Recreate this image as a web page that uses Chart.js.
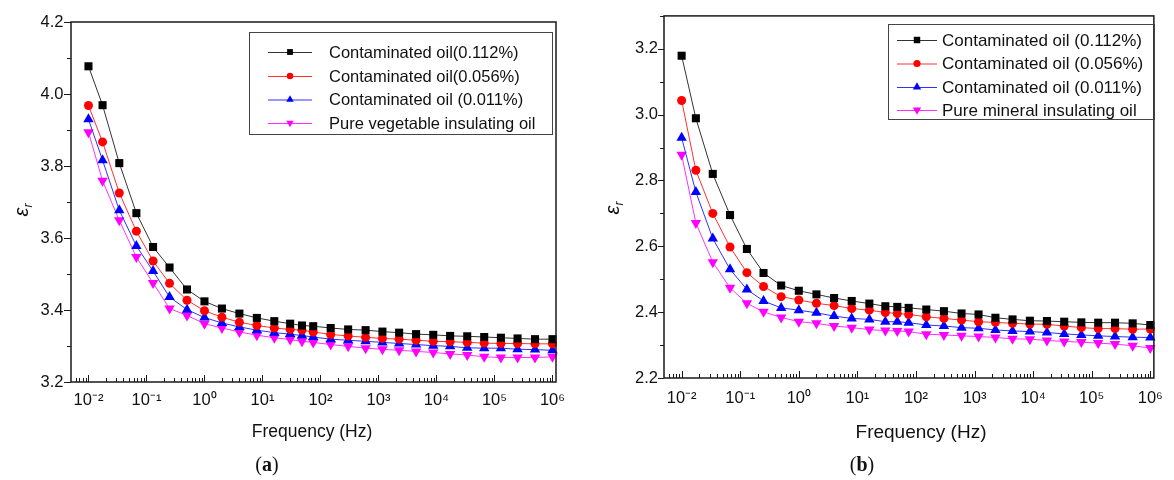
<!DOCTYPE html>
<html><head><meta charset="utf-8">
<script src="https://cdn.jsdelivr.net/npm/chart.js@4.4.0/dist/chart.umd.min.js"></script>
<style>
html,body{margin:0;padding:0;background:#fff;}
#wrap{position:relative;width:1174px;height:480px;overflow:hidden;}
#chartA{position:absolute;left:0;top:0;}
#chartB{position:absolute;left:580px;top:0;}
</style></head><body>
<div id="wrap">
<canvas id="chartA" width="580" height="480"></canvas>
<canvas id="chartB" width="594" height="480"></canvas>
</div>
<script>
// ---------- data ----------
const frequencies = [0.01, 0.0175, 0.034, 0.067, 0.13, 0.25, 0.5, 1, 2, 4, 8, 16, 30, 48, 75, 150, 300, 600,
  1170, 2270, 4450, 8800, 17200, 33900, 66500, 129000, 250000, 500000, 1000000];

const xTickValues = [1e-2, 1e-1, 1, 10, 100, 1e3, 1e4, 1e5, 1e6];
const xTickLabels = ['10\u207B\u00B2', '10\u207B\u00B9', '10\u2070', '10\u00B9', '10\u00B2', '10\u00B3', '10\u2074', '10\u2075', '10\u2076'];
const yTicksA = [3.2, 3.4, 3.6, 3.8, 4.0, 4.2];
const yTicksB = [2.2, 2.4, 2.6, 2.8, 3.0, 3.2];

const namesA = ['Contaminated oil(0.112%)', 'Contaminated oil(0.056%)', 'Contaminated oil (0.011%)', 'Pure vegetable insulating oil'];
const namesB = ['Contaminated oil (0.112%)', 'Contaminated oil (0.056%)', 'Contaminated oil (0.011%)', 'Pure mineral insulating oil'];

// panel (a): vegetable oil
const a112 = [4.077, 3.969, 3.808, 3.669, 3.575, 3.518, 3.457, 3.424, 3.404, 3.39, 3.378, 3.369, 3.362, 3.357, 3.355,
  3.35, 3.346, 3.344, 3.34, 3.337, 3.333, 3.331, 3.328, 3.327, 3.325, 3.323, 3.321, 3.319, 3.319];
const a056 = [3.968, 3.867, 3.725, 3.619, 3.536, 3.474, 3.427, 3.398, 3.38, 3.366, 3.357, 3.35, 3.346, 3.344, 3.339,
  3.332, 3.328, 3.324, 3.321, 3.319, 3.316, 3.313, 3.312, 3.31, 3.308, 3.307, 3.307, 3.306, 3.306];
const a011 = [3.93, 3.816, 3.677, 3.578, 3.508, 3.436, 3.401, 3.379, 3.364, 3.353, 3.344, 3.337, 3.333, 3.329, 3.325,
  3.319, 3.316, 3.313, 3.31, 3.307, 3.304, 3.301, 3.299, 3.295, 3.294, 3.294, 3.291, 3.29, 3.288];
const aPure = [3.894, 3.759, 3.649, 3.547, 3.475, 3.404, 3.385, 3.362, 3.35, 3.339, 3.33, 3.323, 3.318, 3.313, 3.31,
  3.304, 3.299, 3.294, 3.291, 3.288, 3.285, 3.282, 3.278, 3.275, 3.27, 3.268, 3.268, 3.268, 3.27];

// panel (b): mineral oil
const b112 = [3.179, 2.989, 2.82, 2.695, 2.592, 2.519, 2.481, 2.465, 2.454, 2.443, 2.434, 2.426, 2.418, 2.416, 2.413,
  2.408, 2.403, 2.396, 2.393, 2.383, 2.378, 2.374, 2.373, 2.371, 2.369, 2.368, 2.368, 2.366, 2.361];
const b056 = [3.043, 2.831, 2.70, 2.598, 2.52, 2.478, 2.447, 2.437, 2.427, 2.42, 2.411, 2.406, 2.399, 2.396, 2.393,
  2.386, 2.381, 2.376, 2.371, 2.369, 2.366, 2.364, 2.363, 2.358, 2.353, 2.35, 2.35, 2.348, 2.349];
const b011 = [2.93, 2.765, 2.624, 2.53, 2.469, 2.434, 2.413, 2.406, 2.398, 2.388, 2.381, 2.378, 2.371, 2.371, 2.368,
  2.361, 2.358, 2.353, 2.351, 2.346, 2.343, 2.341, 2.338, 2.334, 2.331, 2.328, 2.326, 2.324, 2.323];
const bPure = [2.878, 2.671, 2.552, 2.474, 2.427, 2.401, 2.384, 2.371, 2.366, 2.358, 2.353, 2.347, 2.344, 2.343, 2.341,
  2.333, 2.331, 2.328, 2.326, 2.323, 2.319, 2.318, 2.314, 2.311, 2.309, 2.306, 2.303, 2.298, 2.291];

// ---------- styles ----------
const seriesStyles = [
  {color: '#000000', line: '#333333', pointStyle: 'rect', radius: 5.7, rotation: 0},
  {color: '#ff0000', line: '#ff3030', pointStyle: 'circle', radius: 4.5, rotation: 0},
  {color: '#0000ff', line: '#3030ff', pointStyle: 'triangle', radius: 6, rotation: 0},
  {color: '#ff00ff', line: '#ff30ff', pointStyle: 'triangle', radius: 6, rotation: 180}
];
const FONT = '"Liberation Sans", Arial, sans-serif';

function makeDatasets(names, arrays) {
  return arrays.map((arr, i) => {
    const s = seriesStyles[i];
    return {
      label: names[i],
      data: arr.map((v, k) => ({x: frequencies[k], y: v})),
      borderColor: s.line,
      backgroundColor: s.color,
      borderWidth: 1,
      pointStyle: s.pointStyle,
      pointRadius: s.radius,
      pointRotation: s.rotation,
      pointBackgroundColor: s.color,
      pointBorderColor: s.color,
      pointBorderWidth: 0,
      tension: 0,
      clip: false
    };
  });
}

function decorPlugin(cfg) {
  return {
    id: 'decor',
    afterDraw(chart) {
      const {ctx, chartArea: ca, scales: {x, y}} = chart;
      ctx.save();
      // frame
      ctx.strokeStyle = '#1a1a1a';
      ctx.lineWidth = 1.5;
      ctx.strokeRect(ca.left, ca.top, ca.right - ca.left, ca.bottom - ca.top);
      // x ticks (inward)
      ctx.lineWidth = 1;
      ctx.beginPath();
      xTickValues.forEach(v => {
        const px = Math.round(x.getPixelForValue(v)) + 0.5;
        ctx.moveTo(px, ca.bottom); ctx.lineTo(px, ca.bottom - cfg.xMajor);
      });
      for (let d = -3; d <= 6; d++) {
        for (let k = 2; k <= 9; k++) {
          const v = k * Math.pow(10, d);
          if (v <= x.min || v >= x.max) continue;
          const px = Math.round(x.getPixelForValue(v)) + 0.5;
          ctx.moveTo(px, ca.bottom); ctx.lineTo(px, ca.bottom - cfg.xMinor);
        }
      }
      // y ticks (outward)
      const yt = cfg.yTicks;
      yt.forEach((v) => {
        const py = Math.round(y.getPixelForValue(v)) + 0.5;
        ctx.moveTo(ca.left, py); ctx.lineTo(ca.left - cfg.yMajor, py);
        const mv = v + 0.1;
        if (mv <= y.max + 1e-9) {
          const pm = Math.round(y.getPixelForValue(mv)) + 0.5;
          ctx.moveTo(ca.left, pm); ctx.lineTo(ca.left - cfg.yMinor, pm);
        }
      });
      ctx.strokeStyle = '#1a1a1a';
      ctx.stroke();

      // legend
      const L = cfg.legend;
      ctx.lineWidth = 1;
      ctx.strokeStyle = '#444';
      ctx.strokeRect(L.box[0] + 0.5, L.box[1] + 0.5, L.box[2], L.box[3]);
      ctx.font = L.font;
      ctx.textBaseline = 'middle';
      ctx.textAlign = 'left';
      chart.data.datasets.forEach((ds, i) => {
        const s = seriesStyles[i];
        const ry = L.rowY[i];
        ctx.strokeStyle = s.line;
        ctx.lineWidth = 1;
        ctx.beginPath();
        ctx.moveTo(L.x1, ry + 0.5); ctx.lineTo(L.x2, ry + 0.5);
        ctx.stroke();
        ctx.fillStyle = s.color;
        ctx.strokeStyle = s.color;
        Chart.helpers.drawPoint(ctx, {pointStyle: s.pointStyle, rotation: s.rotation, radius: s.radius * L.markerScale, borderWidth: 0}, L.mx, ry);
        ctx.fillStyle = '#111';
        ctx.fillText(ds.label, L.tx, ry + 1);
      });

      // y-axis title: epsilon_r rotated
      ctx.save();
      ctx.translate(cfg.yTitle.x, cfg.yTitle.y);
      ctx.rotate(-Math.PI / 2);
      ctx.fillStyle = '#111';
      ctx.textBaseline = 'alphabetic';
      ctx.textAlign = 'left';
      ctx.font = 'italic ' + cfg.yTitle.size + 'px ' + FONT;
      const ew = ctx.measureText('\u03B5').width;
      ctx.fillText('\u03B5', -ew / 2 - 3, 6);
      ctx.font = 'italic ' + Math.round(cfg.yTitle.size * 0.6) + 'px ' + FONT;
      ctx.fillText('r', ew / 2 - 3, 10);
      ctx.restore();

      // x-axis title
      ctx.fillStyle = '#111';
      ctx.textAlign = 'center';
      ctx.textBaseline = 'middle';
      ctx.font = cfg.xTitle.size + 'px ' + FONT;
      ctx.fillText('Frequency (Hz)', cfg.xTitle.x, cfg.xTitle.y);

      // caption (a)/(b)
      const serif = '"Liberation Serif", "DejaVu Serif", serif';
      ctx.font = '20px ' + serif;
      const wp1 = ctx.measureText('(').width, wp2 = ctx.measureText(')').width;
      ctx.font = 'bold 20px ' + serif;
      const wl = ctx.measureText(cfg.caption.text).width;
      const cx = cfg.caption.x - (wp1 + wl + wp2) / 2;
      ctx.textAlign = 'left';
      ctx.font = '20px ' + serif;
      ctx.fillText('(', cx, cfg.caption.y);
      ctx.font = 'bold 20px ' + serif;
      ctx.fillText(cfg.caption.text, cx + wp1, cfg.caption.y);
      ctx.font = '20px ' + serif;
      ctx.fillText(')', cx + wp1 + wl, cfg.caption.y);
      ctx.restore();
    }
  };
}

function buildChart(canvasId, datasets, cfg) {
  return new Chart(document.getElementById(canvasId), {
    type: 'line',
    data: {datasets},
    options: {
      responsive: false,
      devicePixelRatio: 1,
      animation: false,
      layout: {padding: {top: cfg.padTop, right: cfg.padRight, left: 0, bottom: 0}},
      plugins: {legend: {display: false}, tooltip: {enabled: false}},
      scales: {
        x: {
          type: 'logarithmic',
          min: 0.005, max: 1.15e6,
          grid: {display: false, drawTicks: false},
          border: {display: false},
          afterBuildTicks: s => { s.ticks = xTickValues.map(v => ({value: v})); },
          afterFit: s => { s.height = cfg.bottomH; },
          ticks: {
            autoSkip: false, maxRotation: 0, minRotation: 0,
            padding: cfg.xPad,
            color: '#111',
            font: {family: FONT, size: cfg.tickSize},
            callback: (v, i) => xTickLabels[i]
          }
        },
        y: {
          type: 'linear',
          min: cfg.yMin, max: cfg.yMax,
          grid: {display: false, drawTicks: false},
          border: {display: false},
          afterBuildTicks: s => { s.ticks = cfg.yTicks.map(v => ({value: v})); },
          afterFit: s => { s.width = cfg.leftW; },
          ticks: {
            padding: cfg.yPad,
            color: '#111',
            font: {family: FONT, size: cfg.tickSize},
            callback: v => Number(v).toFixed(1)
          }
        }
      }
    },
    plugins: [decorPlugin(cfg)]
  });
}

buildChart('chartA', makeDatasets(namesA, [a112, a056, a011, aPure]), {
  padTop: 22, padRight: 24, leftW: 71, bottomH: 98,
  yMin: 3.2, yMax: 4.2, yTicks: yTicksA,
  xPad: 8.5, yPad: 7.5, tickSize: 16.5,
  xMajor: 7, xMinor: 4, yMajor: 7, yMinor: 4,
  legend: {box: [249, 32, 303, 102], rowY: [52, 76, 99.5, 123], x1: 268, x2: 312, mx: 290, tx: 329, markerScale: 0.72, font: '16.5px ' + FONT},
  yTitle: {x: 22, y: 209, size: 20},
  xTitle: {x: 312, y: 432, size: 17.5},
  caption: {text: 'a', x: 267, y: 466}
});

buildChart('chartB', makeDatasets(namesB, [b112, b056, b011, bPure]), {
  padTop: 14, padRight: 17, leftW: 84, bottomH: 102,
  yMin: 2.2, yMax: 3.3, yTicks: yTicksB,
  xPad: 11, yPad: 6, tickSize: 16.5,
  xMajor: 7, xMinor: 4, yMajor: 6, yMinor: 4,
  legend: {box: [308, 24, 266, 95], rowY: [40, 63.5, 87, 110], x1: 317, x2: 357, mx: 337, tx: 362, markerScale: 0.8, font: '17px ' + FONT},
  yTitle: {x: 33, y: 207, size: 20},
  xTitle: {x: 341, y: 433, size: 19},
  caption: {text: 'b', x: 282, y: 466}
});
</script>
</body></html>
